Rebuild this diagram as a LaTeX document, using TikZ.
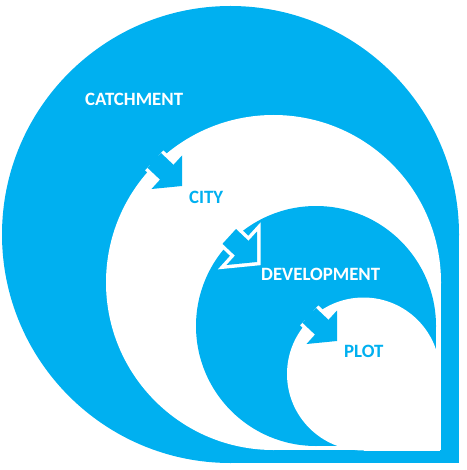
\documentclass[tikz,border=0pt]{standalone}
\usepackage{fontspec}
\setmainfont{Carlito}
\usetikzlibrary{calc}
\definecolor{cblue}{HTML}{00B0F0}
\newcommand{\teardrop}[4]{%
  \fill[#4] (#1,#2) circle[radius=#3pt];
  \fill[#4] (#1,#2) rectangle ++(#3,#3);}
\newcommand{\flowarrow}[3]{%
  \coordinate (#1T) at (#2,#3);
  \coordinate (#1S1) at ($(#1T)+(0,-30.5)$);
  \coordinate (#1S2) at ($(#1T)+(-30.5,3)$);
  \coordinate (#1U0) at ($(#1T)+(-8.5,-21.2)$);
  \coordinate (#1L0) at ($(#1T)+(-22,-6.4)$);
  \coordinate (#1U1) at ($(#1T)+(-21,-33)$);
  \coordinate (#1L1) at ($(#1T)+(-34.5,-18.2)$);
  \draw[white, line width=7pt, line join=miter] (#1U1) -- (#1U0) -- (#1S1) -- (#1T) -- (#1S2) -- (#1L0) -- (#1L1);
  \fill[cblue] (#1U1) -- (#1U0) -- (#1S1) -- (#1T) -- (#1S2) -- (#1L0) -- (#1L1) -- cycle;}
\begin{document}
\begin{tikzpicture}[x=1pt,y=-1pt,
  lbl/.style={font=\fontsize{18.8}{20}\selectfont\bfseries, inner sep=0pt, anchor=west}]
\useasboundingbox (0,0) rectangle (466,470);
\fill[white] (0,0) rectangle (466,470);
\teardrop{230.5}{234.5}{228.5}{cblue}
\teardrop{273.5}{282.5}{167.5}{white}
\flowarrow{a}{182}{186}
\teardrop{316}{326}{120}{cblue}
\flowarrow{b}{257}{262}
\teardrop{363.5}{374}{76.5}{white}
\flowarrow{c}{337}{341}
\node[lbl, text=white] (catchment) at (85,99) {CATCHMENT};
\node[lbl, text=cblue] (city) at (189,197) {CITY};
\node[lbl, text=white] (development) at (261,274) {DEVELOPMENT};
\node[lbl, text=cblue] (plot) at (344,351) {PLOT};
\end{tikzpicture}
\end{document}
